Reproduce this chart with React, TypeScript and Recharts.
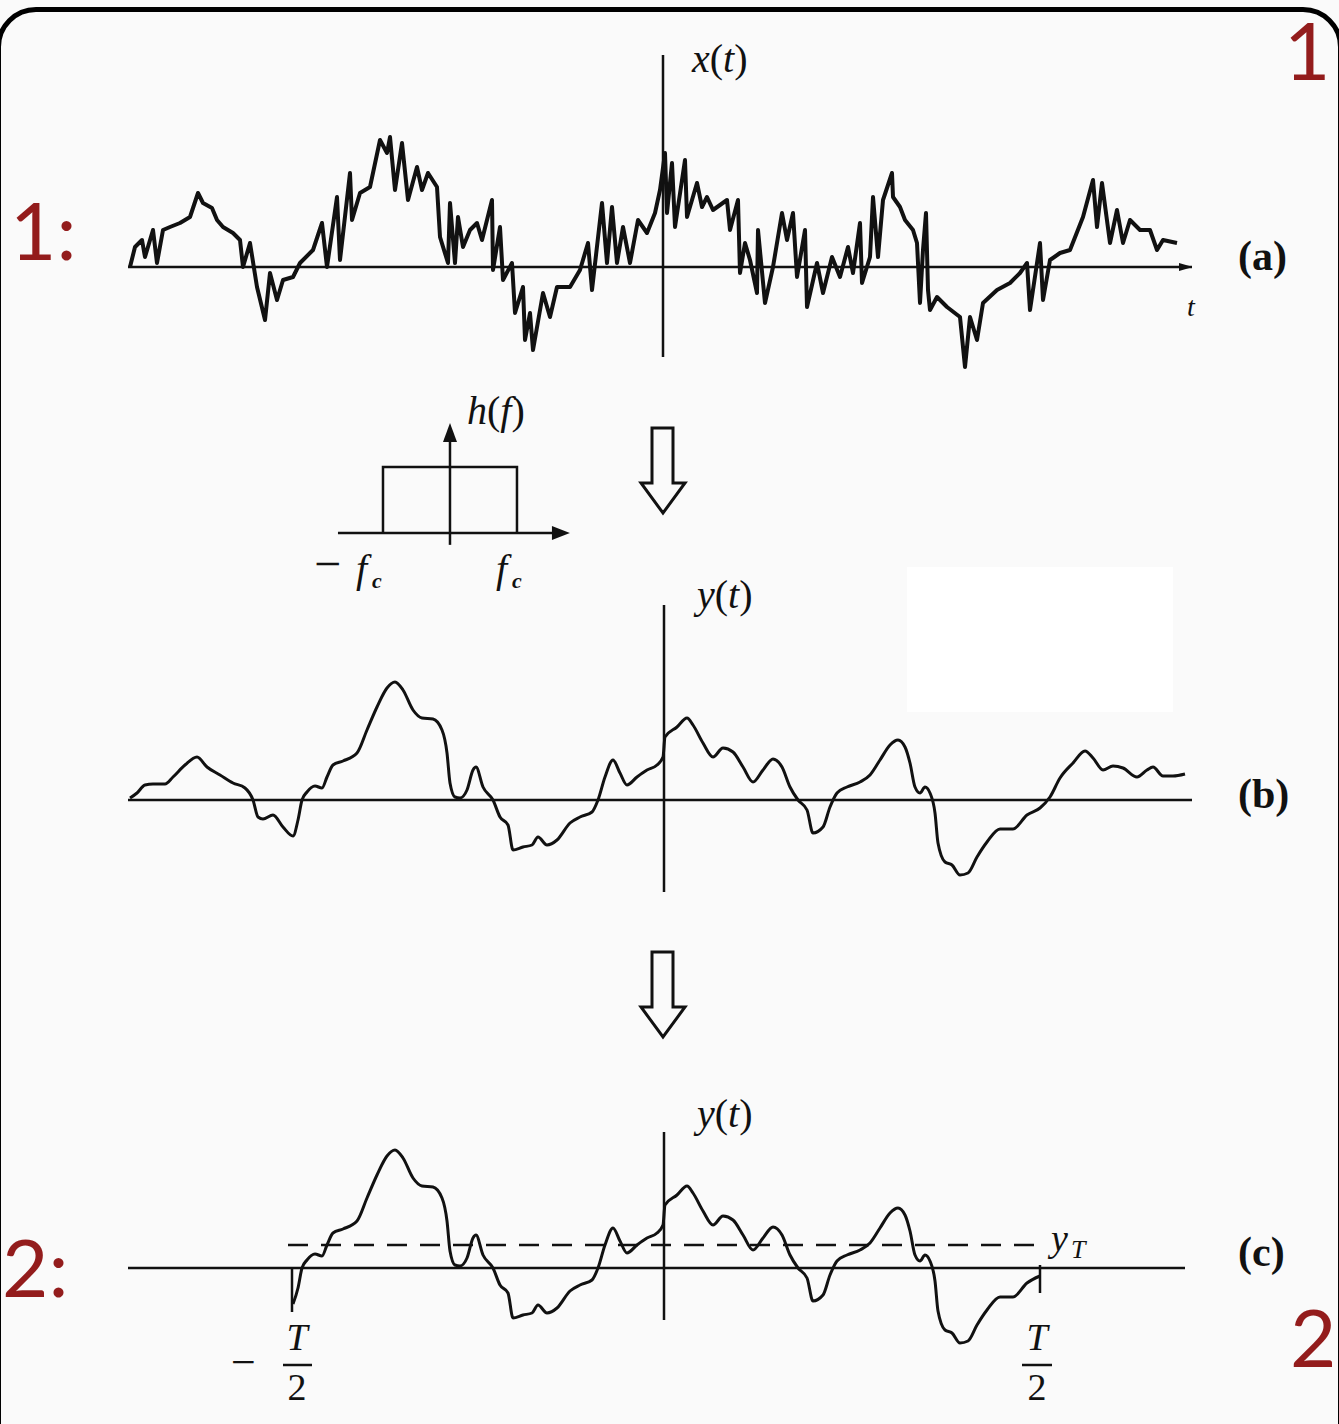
import { LineChart, Line, XAxis, YAxis, ReferenceLine, ReferenceDot } from "recharts";

// (a) raw signal x(t): [t, x]
const signalA: [number, number][] = [
  [-53.3, 0], [-52.8, 2.0], [-52.1, 2.7], [-51.8, 1.0], [-51.0, 3.7], [-50.6, 0.4], [-50.0, 3.7],
  [-49.3, 4.0], [-48.3, 4.4], [-47.3, 5.0], [-46.5, 7.4], [-46.0, 6.4], [-45.1, 5.9], [-44.6, 4.7],
  [-44.0, 4.0], [-43.0, 3.4], [-42.3, 2.7], [-42.0, 0], [-41.3, 2.4], [-40.6, -2.0], [-39.8, -5.3],
  [-39.3, -0.6], [-38.6, -3.3], [-38.0, -1.3], [-37.0, -1.0], [-36.3, 0.4], [-35.0, 1.7], [-34.1, 4.4],
  [-33.6, 0], [-32.6, 7.0], [-32.3, 0.7], [-31.3, 9.4], [-31.1, 4.7], [-30.3, 7.4], [-29.3, 8.0],
  [-28.3, 12.7], [-27.6, 11.4], [-27.3, 13.0], [-26.8, 7.7], [-26.1, 12.4], [-25.5, 6.7], [-24.6, 10.0],
  [-24.1, 7.7], [-23.5, 9.4], [-22.6, 8.0], [-22.3, 3.0], [-21.5, 0.4], [-21.3, 6.4], [-20.8, 0.4],
  [-20.5, 5.0], [-20.0, 2.0], [-19.3, 3.7], [-18.6, 4.4], [-18.1, 2.7], [-17.1, 6.7], [-17.0, -0.3],
  [-16.3, 4.0], [-16.0, -1.3], [-15.1, 0.4], [-14.8, -4.6], [-14.0, -2.0], [-13.8, -7.3], [-13.3, -4.6],
  [-13.0, -8.3], [-12.0, -2.6], [-11.3, -5.0], [-10.6, -2.0], [-9.3, -2.0], [-8.3, -0.3], [-7.5, 2.4],
  [-7.1, -2.3], [-6.1, 6.4], [-5.6, 0.4], [-5.1, 6.0], [-4.6, 0.4], [-4.0, 4.0], [-3.3, 0.4],
  [-2.5, 4.7], [-1.6, 3.4], [-0.8, 5.4], [-0.3, 7.7], [0.2, 11.4], [0.4, 5.4], [0.9, 10.4],
  [1.2, 4.0], [2.2, 10.7], [2.4, 5.0], [3.4, 8.4], [3.9, 6.0], [4.4, 7.0], [5.0, 5.7], [6.4, 6.7],
  [6.7, 3.7], [7.5, 6.7], [7.7, -0.6], [8.2, 2.4], [8.7, 0.7], [9.4, -2.6], [9.5, 3.7], [10.2, -3.6],
  [11.0, 0], [11.9, 5.4], [12.4, 2.7], [13.0, 5.4], [13.4, -1.0], [14.2, 3.7], [14.4, -4.0],
  [15.4, 0.4], [16.0, -2.6], [16.9, 1.0], [17.7, -1.0], [18.5, 2.0], [19.0, -0.6], [19.7, 4.4],
  [19.9, -1.6], [20.7, 1.0], [21.0, 7.0], [21.5, 1.0], [22.0, 6.7], [22.9, 9.4], [23.0, 7.0],
  [23.7, 6.0], [24.2, 4.7], [25.0, 3.7], [25.4, 2.4], [25.7, -3.6], [26.0, 1.7], [26.3, 5.4],
  [26.5, -2.3], [26.7, -4.3], [27.4, -3.0], [28.4, -4.0], [29.7, -5.0], [30.2, -10.0], [30.7, -5.0],
  [31.4, -7.3], [32.0, -3.6], [33.4, -2.3], [34.7, -1.6], [35.7, -0.6], [36.4, 0.4], [36.7, -4.3],
  [37.7, 2.4], [38.0, -3.3], [38.7, 0.7], [39.7, 1.4], [40.7, 1.7], [42.0, 5.0], [43.0, 8.7],
  [43.4, 4.0], [43.9, 8.4], [44.7, 2.4], [45.4, 5.7], [46.0, 2.4], [46.7, 4.7], [47.7, 3.7],
  [48.7, 3.7], [49.4, 1.7], [50.0, 2.7], [51.4, 2.4],
];

// (b) filtered signal y(t): [t, y]
const signalB: [number, number][] = [
  [-53.3, 0.2], [-52.6, 0.7], [-51.8, 1.5], [-51.0, 1.6], [-49.8, 1.6], [-49.0, 2.3], [-47.8, 3.5],
  [-46.6, 4.3], [-45.6, 3.3], [-44.3, 2.5], [-43.0, 1.7], [-41.8, 1.2], [-41.0, 0], [-40.5, -1.7],
  [-40.0, -1.9], [-39.0, -1.5], [-38.0, -2.7], [-37.0, -3.6], [-36.5, -2.0], [-36.1, 0], [-35.6, 0.8],
  [-34.8, 1.4], [-34.1, 1.2], [-33.6, 2.3], [-33.0, 3.5], [-32.0, 3.9], [-30.6, 4.7], [-29.6, 7.0],
  [-28.6, 9.3], [-27.6, 11.2], [-26.8, 11.8], [-26.0, 11.0], [-25.0, 9.0], [-24.1, 8.2], [-23.0, 8.1],
  [-22.1, 7.0], [-21.6, 4.7], [-21.3, 1.7], [-20.8, 0.3], [-20.3, 0.2], [-19.6, 1.0], [-19.0, 3.0],
  [-18.7, 3.3], [-18.0, 1.3], [-17.0, 0], [-16.3, -1.7], [-15.5, -2.5], [-15.0, -5.0], [-14.0, -4.7],
  [-13.1, -4.5], [-12.5, -3.7], [-11.6, -4.5], [-10.6, -4.0], [-9.3, -2.3], [-8.3, -1.7], [-7.1, -1.2],
  [-6.5, 0], [-5.8, 2.3], [-5.0, 4.0], [-4.3, 2.7], [-3.6, 1.5], [-2.6, 2.3], [-1.6, 3.0], [-0.6, 3.5],
  [0.0, 4.3], [0.2, 6.3], [1.4, 7.3], [2.4, 8.2], [3.0, 7.5], [4.0, 5.7], [5.0, 4.3], [6.0, 5.2],
  [7.0, 4.8], [8.0, 3.3], [9.0, 1.8], [10.0, 3.0], [11.0, 4.1], [11.9, 3.3], [12.7, 1.3], [13.5, 0],
  [14.4, -1.0], [15.0, -3.3], [16.0, -2.7], [16.7, -0.7], [17.4, 0.7], [18.4, 1.3], [19.7, 1.8],
  [20.7, 2.5], [21.7, 4.0], [22.7, 5.5], [23.5, 6.0], [24.2, 5.3], [24.7, 3.7], [25.2, 1.3], [25.7, 0.7],
  [26.2, 1.3], [26.7, 0.7], [27.2, -1.3], [27.5, -4.3], [28.2, -6.2], [28.9, -6.5], [29.7, -7.5],
  [30.5, -7.3], [31.4, -5.7], [32.4, -4.2], [33.7, -2.9], [35.0, -2.9], [36.4, -1.5], [37.7, -0.8],
  [38.7, 0.3], [39.7, 2.2], [41.0, 3.7], [42.2, 4.9], [43.0, 4.2], [44.0, 3.0], [45.0, 3.4], [46.0, 3.2],
  [47.4, 2.3], [48.4, 3.0], [49.0, 3.3], [50.0, 2.4], [51.0, 2.4], [52.2, 2.6],
];

// (c) observation window and threshold
const halfT = [-37.1, 37.7];
const threshold = 2.3;

// inset: ideal low-pass h(f), cutoff at ±fc
const filterShape: [number, number][] = [[-1, 0], [-1, 1], [1, 1], [1, 0]];

const dataA = signalA.map(([t, v]) => ({ t, v }));
const dataB = signalB.map(([t, v]) => ({ t, v }));
const dataC = dataB.filter((d) => d.t >= halfT[0] && d.t <= halfT[1]);
const dataH = filterShape.map(([f, h]) => ({ f, h }));

const INK = "#111";
const RED = "#931c1c";
const SERIF = "'Liberation Serif', 'Times New Roman', serif";
const SANS = "Lato, 'Open Sans', sans-serif";
const T_DOMAIN: [number, number] = [-53.5, 52.9];

function Panel({
  data, top, height, yDomain, children, curve,
}: {
  data: { t: number; v: number }[];
  top: number;
  height: number;
  yDomain: [number, number];
  children?: React.ReactNode;
  curve: "linear" | "monotone";
}) {
  return (
    <div style={{ position: "absolute", left: 128, top }}>
      <LineChart width={1064} height={height} data={data} margin={{ top: 0, right: 0, bottom: 0, left: 0 }}>
        <XAxis type="number" dataKey="t" domain={T_DOMAIN} allowDataOverflow hide />
        <YAxis type="number" domain={yDomain} allowDataOverflow hide />
        {children}
        <Line
          type={curve}
          dataKey="v"
          stroke={INK}
          strokeWidth={curve === "linear" ? 4 : 3}
          strokeLinejoin="round"
          dot={false}
          isAnimationActive={false}
        />
      </LineChart>
    </div>
  );
}

const axisProps = { stroke: INK, strokeWidth: 2.5, ifOverflow: "visible" as const };

function BlockArrow({ top }: { top: number }) {
  const d = `M652,${top} L673,${top} L673,${top + 55} L685,${top + 55} L663,${top + 85} L641,${top + 55} L652,${top + 55} Z`;
  return <path d={d} fill="none" stroke={INK} strokeWidth={3} strokeLinejoin="miter" />;
}

function Fn({ x, y, name, arg, size = 40 }: { x: number; y: number; name: string; arg: string; size?: number }) {
  return (
    <text x={x} y={y} fontFamily={SERIF} fontSize={size} fill={INK}>
      <tspan fontStyle="italic">{name}</tspan>(<tspan fontStyle="italic">{arg}</tspan>)
    </text>
  );
}

export default function App() {
  return (
    <div style={{ position: "absolute", left: 0, top: 0, width: 1339, height: 1424, background: "#fafafa", overflow: "hidden" }}>
      <div
        style={{
          position: "absolute", left: -4, top: 7, width: 1337, height: 1500,
          border: "5px solid #000", borderRadius: 40,
        }}
      />
      <div style={{ position: "absolute", left: 907, top: 567, width: 266, height: 145, background: "#fff" }} />

      {/* (a) x(t) */}
      <Panel data={dataA} top={47} height={330} yDomain={[-11, 22]} curve="linear">
        <ReferenceLine y={0} {...axisProps} />
        <ReferenceLine segment={[{ x: 0, y: 21.2 }, { x: 0, y: -9 }]} {...axisProps} />
        <ReferenceDot
          x={52.8}
          y={0}
          ifOverflow="visible"
          shape={(p: any) => <path d={`M${p.cx + 2},${p.cy} L${p.cx - 12},${p.cy - 4} L${p.cx - 12},${p.cy + 4} Z`} fill={INK} />}
        />
      </Panel>

      {/* (b) y(t) */}
      <Panel data={dataB} top={595} height={305} yDomain={[-10, 20.5]} curve="monotone">
        <ReferenceLine y={0} {...axisProps} />
        <ReferenceLine segment={[{ x: 0.1, y: 19.5 }, { x: 0.1, y: -9.2 }]} {...axisProps} />
      </Panel>

      {/* (c) windowed y(t) with threshold */}
      <Panel data={dataC} top={1120} height={230} yDomain={[-8.2, 14.8]} curve="monotone">
        <ReferenceLine segment={[{ x: -53.5, y: 0 }, { x: 52.2, y: 0 }]} {...axisProps} />
        <ReferenceLine segment={[{ x: 0.1, y: 13.6 }, { x: 0.1, y: -5.2 }]} {...axisProps} />
        <ReferenceLine
          segment={[{ x: -37.5, y: threshold }, { x: halfT[1], y: threshold }]}
          stroke={INK}
          strokeWidth={2.5}
          strokeDasharray="20 13"
          ifOverflow="visible"
        />
        <ReferenceLine segment={[{ x: halfT[0], y: 0 }, { x: halfT[0], y: -4.4 }]} {...axisProps} />
        <ReferenceLine segment={[{ x: halfT[1], y: 0.3 }, { x: halfT[1], y: -2.5 }]} {...axisProps} />
      </Panel>

      {/* inset h(f) */}
      <div style={{ position: "absolute", left: 330, top: 415 }}>
        <LineChart width={245} height={135} data={dataH} margin={{ top: 0, right: 0, bottom: 0, left: 0 }}>
          <XAxis type="number" dataKey="f" domain={[-1.791, 1.866]} allowDataOverflow hide />
          <YAxis type="number" domain={[-0.258, 1.788]} allowDataOverflow hide />
          <ReferenceLine segment={[{ x: -1.672, y: 0 }, { x: 1.64, y: 0 }]} {...axisProps} />
          <ReferenceLine segment={[{ x: 0, y: -0.18 }, { x: 0, y: 1.45 }]} {...axisProps} />
          <ReferenceDot
            x={1.79}
            y={0}
            ifOverflow="visible"
            shape={(p: any) => <path d={`M${p.cx},${p.cy} L${p.cx - 18},${p.cy - 7} L${p.cx - 18},${p.cy + 7} Z`} fill={INK} />}
          />
          <ReferenceDot
            x={0}
            y={1.667}
            ifOverflow="visible"
            shape={(p: any) => <path d={`M${p.cx},${p.cy} L${p.cx - 7},${p.cy + 19} L${p.cx + 7},${p.cy + 19} Z`} fill={INK} />}
          />
          <Line type="linear" dataKey="h" stroke={INK} strokeWidth={2.5} dot={false} isAnimationActive={false} />
        </LineChart>
      </div>

      {/* labels and flow arrows */}
      <svg width={1339} height={1424} style={{ position: "absolute", left: 0, top: 0, pointerEvents: "none" }}>
        <BlockArrow top={428} />
        <BlockArrow top={952} />

        <Fn x={692} y={72} name="x" arg="t" />
        <text x={1187} y={316} fontFamily={SERIF} fontStyle="italic" fontSize={28} fill={INK}>t</text>
        <text x={1238} y={270} fontFamily={SERIF} fontWeight="bold" fontSize={42} fill={INK}>(a)</text>

        <Fn x={467} y={424} name="h" arg="f" />
        <text x={314} y={580} fontFamily={SERIF} fontSize={48} fill={INK}>−</text>
        <text x={356} y={582} fontFamily={SERIF} fontStyle="italic" fontSize={40} fill={INK}>f</text>
        <text x={372} y={588} fontFamily={SERIF} fontStyle="italic" fontWeight="bold" fontSize={22} fill={INK}>c</text>
        <text x={496} y={582} fontFamily={SERIF} fontStyle="italic" fontSize={40} fill={INK}>f</text>
        <text x={512} y={588} fontFamily={SERIF} fontStyle="italic" fontWeight="bold" fontSize={22} fill={INK}>c</text>

        <Fn x={697} y={608} name="y" arg="t" />
        <text x={1238} y={808} fontFamily={SERIF} fontWeight="bold" fontSize={42} fill={INK}>(b)</text>

        <Fn x={697} y={1127} name="y" arg="t" />
        <text x={1051} y={1251} fontFamily={SERIF} fontStyle="italic" fontSize={38} fill={INK}>y</text>
        <text x={1071} y={1258} fontFamily={SERIF} fontStyle="italic" fontSize={26} fill={INK}>T</text>
        <text x={1238} y={1266} fontFamily={SERIF} fontWeight="bold" fontSize={42} fill={INK}>(c)</text>

        <text x={231} y={1377} fontFamily={SERIF} fontSize={44} fill={INK}>−</text>
        <text x={297} y={1350} textAnchor="middle" fontFamily={SERIF} fontStyle="italic" fontSize={38} fill={INK}>T</text>
        <line x1={283} x2={312} y1={1365} y2={1365} stroke={INK} strokeWidth={2.5} />
        <text x={297} y={1400} textAnchor="middle" fontFamily={SERIF} fontSize={38} fill={INK}>2</text>
        <text x={1037} y={1350} textAnchor="middle" fontFamily={SERIF} fontStyle="italic" fontSize={38} fill={INK}>T</text>
        <line x1={1022} x2={1052} y1={1365} y2={1365} stroke={INK} strokeWidth={2.5} />
        <text x={1037} y={1400} textAnchor="middle" fontFamily={SERIF} fontSize={38} fill={INK}>2</text>

        <text x={10} y={260} fontFamily={SANS} fontSize={80} fill={RED}>1:</text>
        <text x={1284} y={80} fontFamily={SANS} fontSize={80} fill={RED}>1</text>
        <text x={2} y={1297} fontFamily={SANS} fontSize={80} fill={RED}>2:</text>
        <text x={1290} y={1367} fontFamily={SANS} fontSize={80} fill={RED}>2</text>
      </svg>
    </div>
  );
}
